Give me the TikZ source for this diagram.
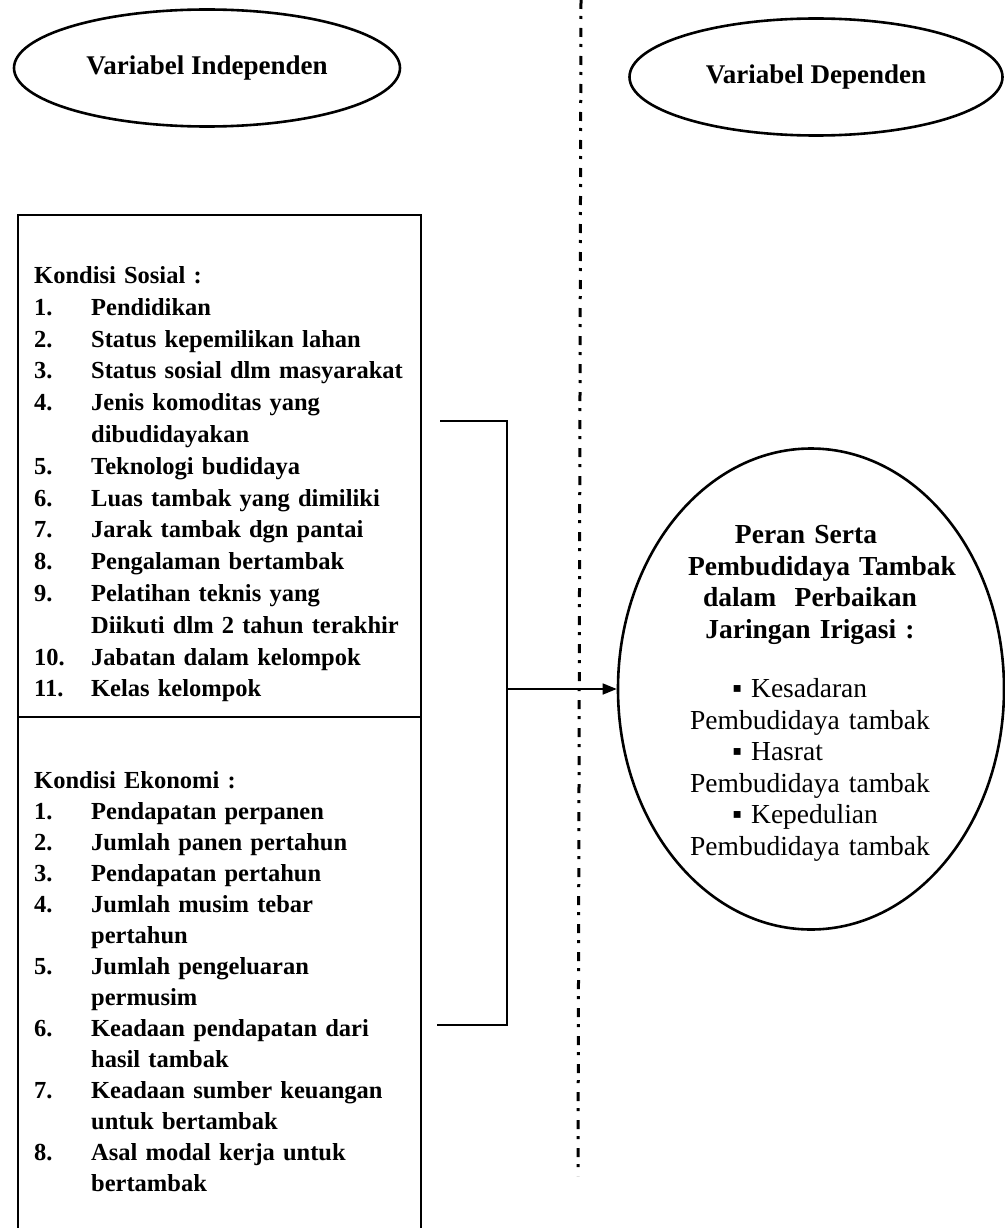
\documentclass[tikz,border=0pt]{standalone}
\usepackage{fontspec}
\setmainfont{Liberation Serif}
\usetikzlibrary{shapes.geometric,arrows.meta}
\newcommand{\lnum}[1]{\makebox[57pt][l]{#1}}
\newcommand{\lcont}{\hspace*{57pt}}
\newcommand{\bulitem}[1]{\makebox[237.5pt][l]{\hspace*{41pt}▪ #1}}
\begin{document}
\begin{tikzpicture}[x=1pt,y=-1pt,
  hdr/.style={ellipse, draw, line width=2.6pt, inner sep=0pt,
    font=\fontsize{27}{32}\selectfont\bfseries},
  boxn/.style={draw, line width=2.2pt, inner sep=0pt, outer sep=0pt},
  listtxt/.style={anchor=base west, inner sep=0pt, text width=385pt, align=left},
  ctxt/.style={anchor=base, inner sep=0pt, text width=320pt, align=center},
  brk/.style={line width=2.6pt},
  arr/.style={line width=1.6pt, -{Triangle[length=14pt,width=11pt]}},
  dashdot/.style={line width=3pt, dash pattern=on 9pt off 7pt on 3pt off 9pt}]
\useasboundingbox (0,0) rectangle (1004,1228);

% header ellipses
\node[hdr, minimum width=386pt, minimum height=117pt] (indep) at (207,68) {Variabel Independen};
\node[hdr, minimum width=373pt, minimum height=117pt] (dep) at (816,77) {Variabel Dependen};

% dividing dash-dot line
\coordinate (dtop) at (581,0);
\coordinate (dbot) at (578,1176);
\draw[dashdot] (dtop) -- (dbot);

% left boxes
\node[boxn, minimum width=403pt, minimum height=502pt, anchor=north west] (sosbox) at (18,215) {};
\node[boxn, minimum width=403pt, minimum height=523pt, anchor=north west] (ekobox) at (sosbox.south west) {};

\node[listtxt, font=\fontsize{24.5}{31.8}\selectfont\bfseries] (sostxt) at (34,283.5) {%
Kondisi Sosial :\\
\lnum{1.}Pendidikan\\
\lnum{2.}Status kepemilikan lahan\\
\lnum{3.}Status sosial dlm masyarakat\\
\lnum{4.}Jenis komoditas yang\\
\lcont dibudidayakan\\
\lnum{5.}Teknologi budidaya\\
\lnum{6.}Luas tambak yang dimiliki\\
\lnum{7.}Jarak tambak dgn pantai\\
\lnum{8.}Pengalaman bertambak\\
\lnum{9.}Pelatihan teknis yang\\
\lcont Diikuti dlm 2 tahun terakhir\\
\lnum{10.}Jabatan dalam kelompok\\
\lnum{11.}Kelas kelompok};

\node[listtxt, font=\fontsize{24.5}{31.0}\selectfont\bfseries] (ekotxt) at (34,788.5) {%
Kondisi Ekonomi :\\
\lnum{1.}Pendapatan perpanen\\
\lnum{2.}Jumlah panen pertahun\\
\lnum{3.}Pendapatan pertahun\\
\lnum{4.}Jumlah musim tebar\\
\lcont pertahun\\
\lnum{5.}Jumlah pengeluaran\\
\lcont permusim\\
\lnum{6.}Keadaan pendapatan dari\\
\lcont hasil tambak\\
\lnum{7.}Keadaan sumber keuangan\\
\lcont untuk bertambak\\
\lnum{8.}Asal modal kerja untuk\\
\lcont bertambak};

% bracket
\coordinate (btop) at (440,421);
\coordinate (btr) at (507,421);
\coordinate (bbr) at (507,1025);
\coordinate (bbot) at (437,1025);
\draw[brk] (btop) -- (btr) -- (bbr) -- (bbot);

% dependent ellipse
\node[ellipse, draw, line width=2.6pt, inner sep=0pt, minimum width=386pt, minimum height=481pt] (peran) at (811,689) {};
\coordinate (bmid) at (507,689);
\draw[arr] (bmid) -- (peran.west);

\node[ctxt, font=\fontsize{27.5}{31.7}\selectfont\bfseries] (judul) at (810,543.5) {%
\hspace*{-8pt}Peran Serta\\
\hspace*{24pt}Pembudidaya Tambak\\
dalam\ \ Perbaikan\\
Jaringan Irigasi :};

\node[ctxt, font=\fontsize{27.5}{31.6}\selectfont] (butir) at (810,697.5) {%
\bulitem{Kesadaran}\\
Pembudidaya tambak\\
\bulitem{Hasrat}\\
Pembudidaya tambak\\
\bulitem{Kepedulian}\\
Pembudidaya tambak};
\end{tikzpicture}
\end{document}
